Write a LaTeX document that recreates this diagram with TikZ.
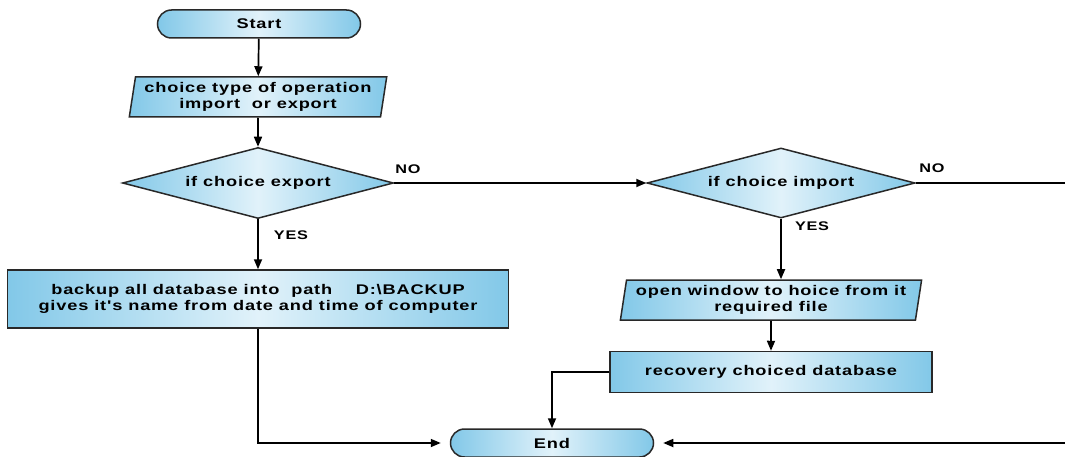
\documentclass[tikz,border=0pt]{standalone}
\usepackage{fontspec}
\setmainfont{Liberation Sans}
\newfontfamily\lblfont[FakeStretch=1.3,LetterSpace=6]{Liberation Sans}
\usetikzlibrary{shapes.geometric,arrows.meta}
\definecolor{cedge}{RGB}{130,200,232}
\definecolor{cmid}{RGB}{225,242,250}
\definecolor{cline}{RGB}{40,40,40}
\begin{document}
\begin{tikzpicture}[x=1pt,y=-1pt,
  box/.style={draw=cline, line width=1.5pt, left color=cedge, right color=cedge, middle color=cmid,
    font=\lblfont\bfseries\fontsize{14}{16.5}\selectfont, align=center, inner sep=0pt},
  term/.style={box, rounded corners=14pt},
  io/.style={box, trapezium, trapezium left angle=79, trapezium right angle=101, trapezium stretches=true},
  dec/.style={box, diamond, shape aspect=3.8},
  proc/.style={box, rectangle},
  lbl/.style={font=\lblfont\bfseries\fontsize{12.5}{14}\selectfont, inner sep=0pt},
  conn/.style={draw=black, line width=1.7pt, -{Triangle[length=10pt,width=8pt]}},
  plain/.style={draw=black, line width=1.7pt}
]
\useasboundingbox (0,0) rectangle (1065,457);
\clip (0,0) rectangle (1065,457);

\node[term, minimum width=203, minimum height=28] (start) at (259,24) {Start};
\node[io, minimum width=258, minimum height=40] (io1) at (258,97) {choice type of operation\\import\ \ or export};
\node[dec, minimum width=271, minimum height=71] (d1) at (258,183) {if choice export};
\node[proc, minimum width=501, minimum height=58] (p1) at (258,299) {backup all database into\ \ path\ \ \ \ D:\textbackslash BACKUP\\gives it's name from date and time of computer};
\node[dec, minimum width=268, minimum height=70] (d2) at (781,183) {if choice import};
\node[io, minimum width=302, minimum height=40] (io2) at (771,300) {open window to hoice from it\\required file};
\node[proc, minimum width=322, minimum height=41] (p2) at (771,372) {recovery choiced database};
\node[term, minimum width=203, minimum height=28] (end) at (552,443) {End};

\node[lbl] (no1) at (408,169) {NO};
\node[lbl] (yes1) at (291,235) {YES};
\node[lbl] (no2) at (932,168) {NO};
\node[lbl] (yes2) at (812,226) {YES};

\coordinate (rt) at (1080,183);
\coordinate (rb) at (1080,443);

\draw[conn] (start) -- (io1);
\draw[conn] (io1) -- (d1);
\draw[conn] (d1) -- (p1);
\draw[conn] (d1.east) -- (d2.west);
\draw[conn] (d2.south) -- (d2.south |- io2.north);
\draw[conn] (io2) -- (p2);
\draw[conn, shorten >=9pt] (p1.south) |- (end.west);
\draw[conn] (p2.west) -| (end.north);
\draw[plain] (d2.east) -- (rt) -- (rb);
\draw[conn, shorten >=9pt] (rb) -- (end.east);
\end{tikzpicture}
\end{document}
